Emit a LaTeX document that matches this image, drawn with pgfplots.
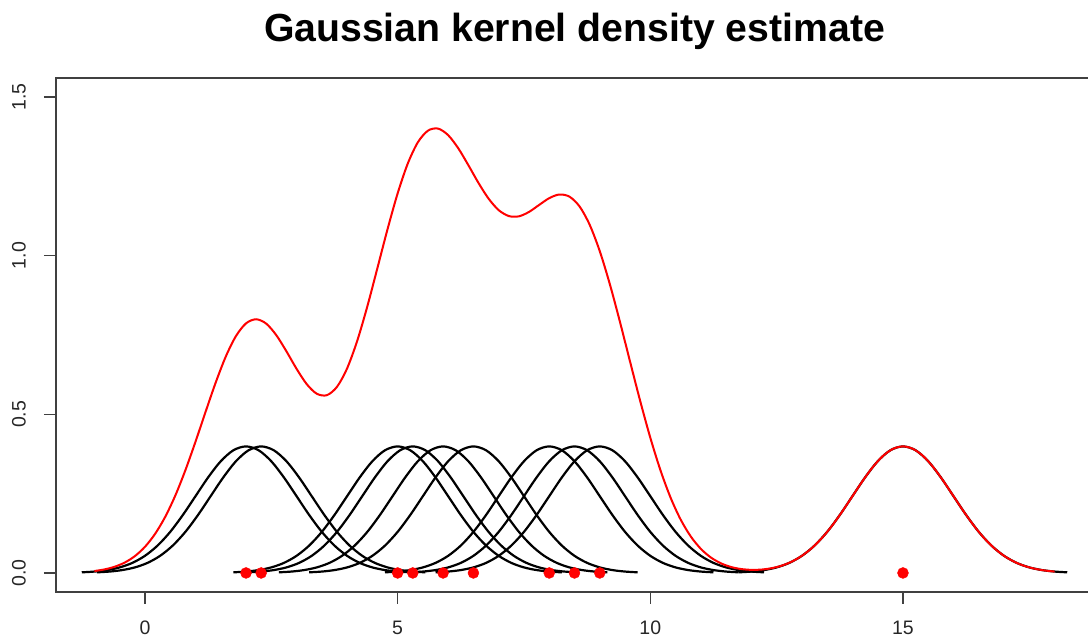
\documentclass[border=0pt]{standalone}
\usepackage{pgfplots}
\pgfplotsset{compat=1.18}
\usepackage{pgfplotstable}
\usepackage{fontspec}
\setmainfont{Liberation Sans}

% kernel curves: y value, then x for each centre
\pgfplotstableread{
y c2 c23 c5 c53 c59 c65 c8 c85 c9 c15
0.0020 -1.25 -0.95 1.75 2.05 2.65 3.25 4.75 5.25 5.75 11.75
0.0044 -1 -0.7 2 2.3 2.9 3.5 5 5.5 6 12
0.0091 -0.75 -0.45 2.25 2.55 3.15 3.75 5.25 5.75 6.25 12.25
0.0175 -0.5 -0.2 2.5 2.8 3.4 4 5.5 6 6.5 12.5
0.0317 -0.25 0.05 2.75 3.05 3.65 4.25 5.75 6.25 6.75 12.75
0.0540 0 0.3 3 3.3 3.9 4.5 6 6.5 7 13
0.0863 0.25 0.55 3.25 3.55 4.15 4.75 6.25 6.75 7.25 13.25
0.1295 0.5 0.8 3.5 3.8 4.4 5 6.5 7 7.5 13.5
0.1827 0.75 1.05 3.75 4.05 4.65 5.25 6.75 7.25 7.75 13.75
0.2420 1 1.3 4 4.3 4.9 5.5 7 7.5 8 14
0.3011 1.25 1.55 4.25 4.55 5.15 5.75 7.25 7.75 8.25 14.25
0.3521 1.5 1.8 4.5 4.8 5.4 6 7.5 8 8.5 14.5
0.3867 1.75 2.05 4.75 5.05 5.65 6.25 7.75 8.25 8.75 14.75
0.3989 2 2.3 5 5.3 5.9 6.5 8 8.5 9 15
0.3867 2.25 2.55 5.25 5.55 6.15 6.75 8.25 8.75 9.25 15.25
0.3521 2.5 2.8 5.5 5.8 6.4 7 8.5 9 9.5 15.5
0.3011 2.75 3.05 5.75 6.05 6.65 7.25 8.75 9.25 9.75 15.75
0.2420 3 3.3 6 6.3 6.9 7.5 9 9.5 10 16
0.1827 3.25 3.55 6.25 6.55 7.15 7.75 9.25 9.75 10.25 16.25
0.1295 3.5 3.8 6.5 6.8 7.4 8 9.5 10 10.5 16.5
0.0863 3.75 4.05 6.75 7.05 7.65 8.25 9.75 10.25 10.75 16.75
0.0540 4 4.3 7 7.3 7.9 8.5 10 10.5 11 17
0.0317 4.25 4.55 7.25 7.55 8.15 8.75 10.25 10.75 11.25 17.25
0.0175 4.5 4.8 7.5 7.8 8.4 9 10.5 11 11.5 17.5
0.0091 4.75 5.05 7.75 8.05 8.65 9.25 10.75 11.25 11.75 17.75
0.0044 5 5.3 8 8.3 8.9 9.5 11 11.5 12 18
0.0020 5.25 5.55 8.25 8.55 9.15 9.75 11.25 11.75 12.25 18.25
}\kerntab

% summed density
\pgfplotstableread{
x y
-1.0 0.0061
-0.8 0.0112
-0.6 0.0196
-0.4 0.0328
-0.2 0.0530
0.0 0.0823
0.2 0.1230
0.4 0.1765
0.6 0.2437
0.8 0.3237
1.0 0.4135
1.2 0.5079
1.4 0.6001
1.6 0.6822
1.8 0.7464
2.0 0.7866
2.2 0.7996
2.4 0.7858
2.6 0.7493
2.8 0.6985
3.0 0.6435
3.2 0.5954
3.4 0.5649
3.6 0.5603
3.8 0.5866
4.0 0.6446
4.2 0.7313
4.4 0.8398
4.6 0.9609
4.8 1.0832
5.0 1.1961
5.2 1.2900
5.4 1.3573
5.6 1.3940
5.8 1.4006
6.0 1.3798
6.2 1.3385
6.4 1.2852
6.6 1.2293
6.8 1.1797
7.0 1.1435
7.2 1.1249
7.4 1.1240
7.6 1.1379
7.8 1.1599
8.0 1.1813
8.2 1.1928
8.4 1.1861
8.6 1.1552
8.8 1.0976
9.0 1.0143
9.2 0.9098
9.4 0.7910
9.6 0.6657
9.8 0.5420
10.0 0.4264
10.2 0.3241
10.4 0.2379
10.6 0.1685
10.8 0.1152
11.0 0.0760
11.2 0.0486
11.4 0.0302
11.6 0.0187
11.8 0.0123
12.0 0.0098
12.2 0.0107
12.4 0.0150
12.6 0.0230
12.8 0.0358
13.0 0.0541
13.2 0.0790
13.4 0.1109
13.6 0.1497
13.8 0.1942
14.0 0.2420
14.2 0.2897
14.4 0.3332
14.6 0.3683
14.8 0.3910
15.0 0.3989
15.2 0.3910
15.4 0.3683
15.6 0.3332
15.8 0.2897
16.0 0.2420
16.2 0.1942
16.4 0.1497
16.6 0.1109
16.8 0.0790
17.0 0.0540
17.2 0.0355
17.4 0.0224
17.6 0.0136
17.8 0.0079
18.0 0.0044
}\denstab

\pgfplotstableread{
x y
2 0
2.3 0
5 0
5.3 0
5.9 0
6.5 0
8 0
8.5 0
9 0
15 0
}\pointtab

\begin{document}
\begin{tikzpicture}
\begin{axis}[
  at={(0,0)}, anchor=south west,
  scale only axis, width=1037pt, height=514pt,
  xmin=-1.76, xmax=18.76, ymin=-0.06, ymax=1.56,
  axis line style={black!75, line width=1.2pt},
  tick style={black!75, line width=1.2pt},
  tick align=outside, major tick length=12pt, tick pos=left,
  xtick={0,5,10,15}, xticklabels={0,5,10,15},
  ytick={0,0.5,1,1.5}, yticklabels={0.0,0.5,1.0,1.5},
  /pgf/number format/assume math mode=true,
  ticklabel style={font=\fontsize{19.5}{22}\selectfont, text=black!85, inner sep=0.5pt},
  xticklabel style={anchor=center, yshift=-23.5pt},
  yticklabel style={rotate=90, anchor=center, yshift=25pt},
  title={Gaussian kernel density estimate},
  title style={font=\fontsize{39.2}{44}\selectfont\bfseries, at={(0.5,1)}, anchor=base, yshift=30pt},
]
\foreach \c in {c2,c23,c5,c53,c59,c65,c8,c85,c9,c15}{
  \addplot[black, line width=2.2pt, smooth] table[x=\c, y=y] {\kerntab};
}
\addplot[red, line width=2pt, smooth] table[x=x, y=y] {\denstab};
\addplot[only marks, mark=*, mark size=5.5pt, red, mark options={draw=red, fill=red}] table[x=x, y=y] {\pointtab};
\end{axis}
\pgfresetboundingbox
\useasboundingbox (-56pt,-45pt) rectangle (1032pt,592pt);
\end{tikzpicture}
\end{document}
